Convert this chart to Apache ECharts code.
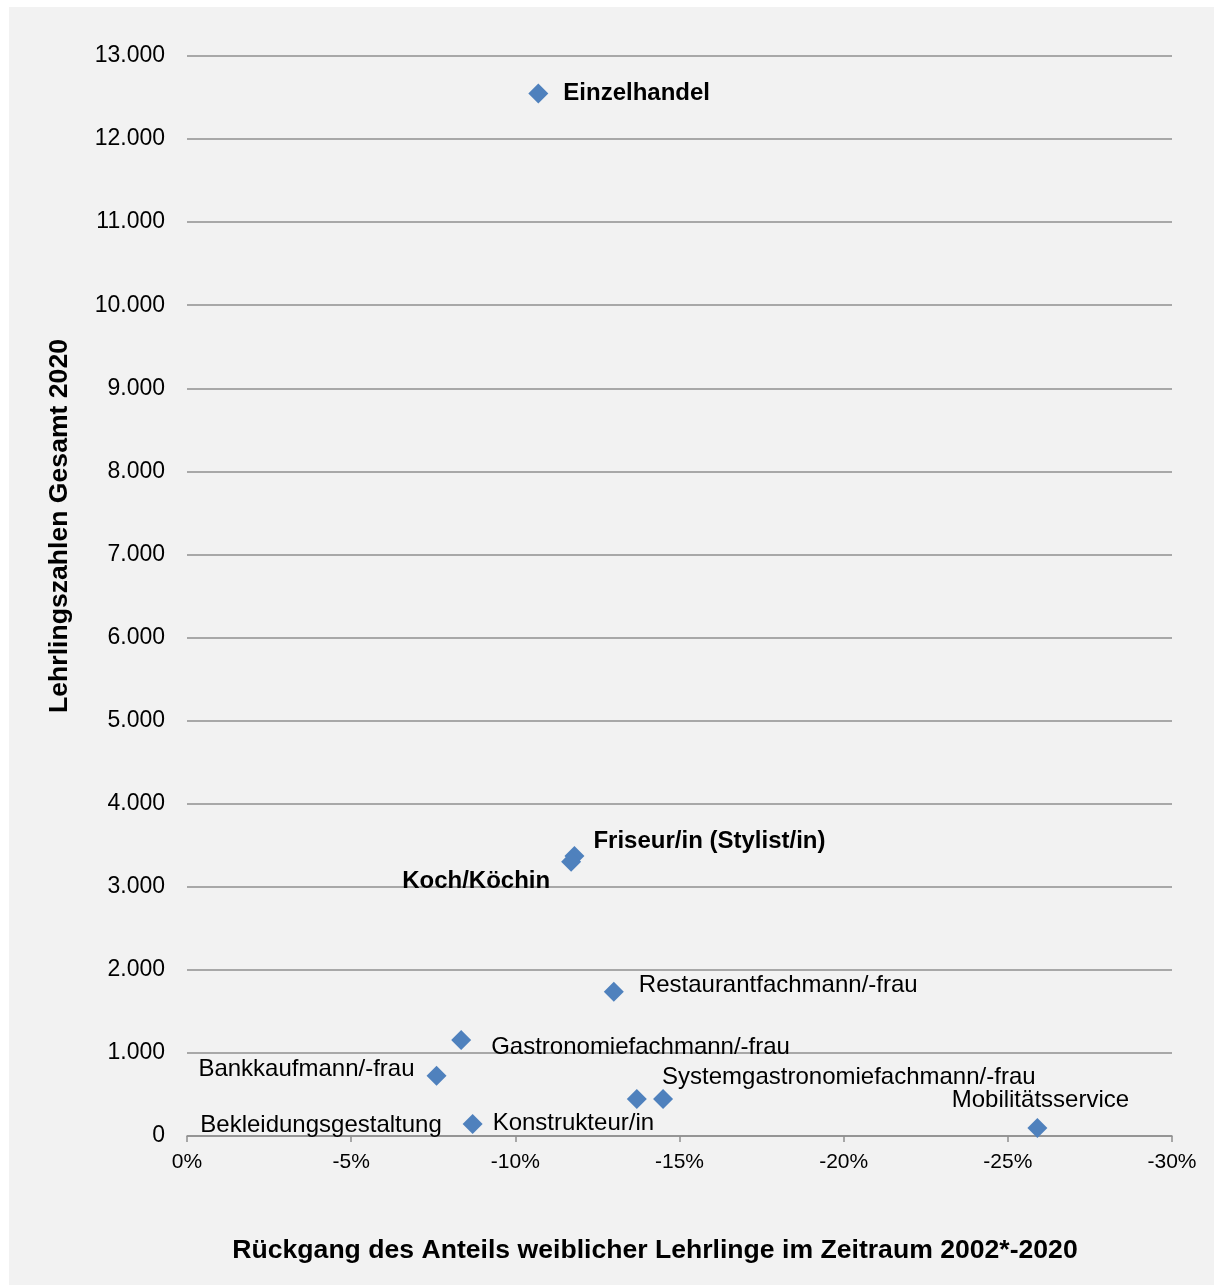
<!DOCTYPE html>
<html>
<head>
<meta charset="utf-8">
<script src="https://cdn.jsdelivr.net/npm/echarts@6/dist/echarts.min.js"></script>
<style>
  html, body { margin: 0; padding: 0; background: #ffffff; }
  #panel { position: absolute; left: 9px; top: 7px; width: 1205px; height: 1278px; background: #f2f2f2; }
  #chart { position: absolute; left: 0; top: 0; width: 1214px; height: 1285px; }
</style>
</head>
<body>
<div id="panel"></div>
<div id="chart"></div>
<script>
// Apprenticeship occupations: drop in female share 2002*-2020 (%) vs. total apprentices 2020
const berufe = [
  'Einzelhandel',
  'Friseur/in (Stylist/in)',
  'Koch/Köchin',
  'Restaurantfachmann/-frau',
  'Gastronomiefachmann/-frau',
  'Bankkaufmann/-frau',
  'Systemgastronomiefachmann/-frau',
  'Bekleidungsgestaltung',
  'Konstrukteur/in',
  'Mobilitätsservice'
];
const rueckgangAnteil = [-10.7, -11.8, -11.7, -13.0, -8.35, -7.6, -14.5, -13.7, -8.7, -25.9];
const lehrlinge2020 = [12550, 3370, 3300, 1735, 1155, 725, 445, 445, 145, 95];
const hervorgehoben = ['Einzelhandel', 'Friseur/in (Stylist/in)', 'Koch/Köchin'];

const xTicks = [0, -5, -10, -15, -20, -25, -30];
const yTicks = [0, 1000, 2000, 3000, 4000, 5000, 6000, 7000, 8000, 9000, 10000, 11000, 12000, 13000];

// label placement relative to each marker centre: [dx, dy, align]
const labelPlacement = [
  [25, 0, 'left'],
  [19, -15, 'left'],
  [-21, 20, 'right'],
  [25, -6, 'left'],
  [30, 7, 'left'],
  [-22, -6, 'right'],
  [-1, -22, 'left'],
  [-195, 26, 'right'],
  [20, -1, 'left'],
  [3, -28, 'center']
];

const SYM = 20;
const FONT = '"Liberation Sans", Arial, Helvetica, sans-serif';

const points = berufe.map((name, i) => {
  const [dx, dy, align] = labelPlacement[i];
  return {
    name: name,
    value: [rueckgangAnteil[i], lehrlinge2020[i]],
    label: {
      show: true,
      position: [SYM / 2 + dx, SYM / 2 + dy],
      align: align,
      verticalAlign: 'middle',
      color: '#000',
      fontSize: 24,
      fontFamily: FONT,
      fontWeight: hervorgehoben.includes(name) ? 'bold' : 'normal'
    }
  };
});

const fmtThousands = v => String(v).replace(/\B(?=(\d{3})+(?!\d))/g, '.');

const chart = echarts.init(document.getElementById('chart'), null, { renderer: 'canvas' });
chart.setOption({
  backgroundColor: 'transparent',
  animation: false,
  textStyle: { fontFamily: FONT },
  grid: { left: 187, right: 42, top: 56, bottom: 149, containLabel: false },
  xAxis: {
    type: 'value',
    min: xTicks[xTicks.length - 1],
    max: xTicks[0],
    interval: 5,
    inverse: true,
    axisLine: { show: true, lineStyle: { color: '#8f8f8f', width: 1.5 } },
    axisTick: { show: true, length: 6, lineStyle: { color: '#8f8f8f', width: 1.5 } },
    splitLine: { show: false },
    axisLabel: {
      color: '#000',
      fontSize: 21,
      margin: 16,
      fontFamily: FONT,
      formatter: v => (v === 0 ? '0%' : v + '%')
    }
  },
  yAxis: {
    type: 'value',
    min: yTicks[0],
    max: yTicks[yTicks.length - 1],
    interval: 1000,
    axisLine: { show: false },
    axisTick: { show: false },
    splitLine: { show: true, lineStyle: { color: '#8f8f8f', width: 1.5 } },
    axisLabel: {
      color: '#000',
      fontSize: 23,
      margin: 22,
      fontFamily: FONT,
      formatter: v => fmtThousands(v)
    }
  },
  graphic: [
    {
      type: 'text',
      x: 655,
      y: 1251,
      style: {
        text: 'Rückgang des Anteils weiblicher Lehrlinge im Zeitraum 2002*-2020',
        font: 'bold 26.6px ' + FONT,
        fill: '#000',
        textAlign: 'center',
        textVerticalAlign: 'middle'
      }
    },
    {
      type: 'text',
      x: 60,
      y: 526,
      rotation: Math.PI / 2,
      style: {
        text: 'Lehrlingszahlen Gesamt 2020',
        font: 'bold 26.6px ' + FONT,
        fill: '#000',
        textAlign: 'center',
        textVerticalAlign: 'middle'
      }
    }
  ],
  series: [
    {
      type: 'scatter',
      symbol: 'diamond',
      symbolSize: SYM,
      itemStyle: { color: '#4f81bd', opacity: 1 },
      label: {
        show: true,
        formatter: p => p.name,
        color: '#000',
        fontSize: 24,
        fontFamily: FONT
      },
      data: points
    }
  ]
});
</script>
</body>
</html>
